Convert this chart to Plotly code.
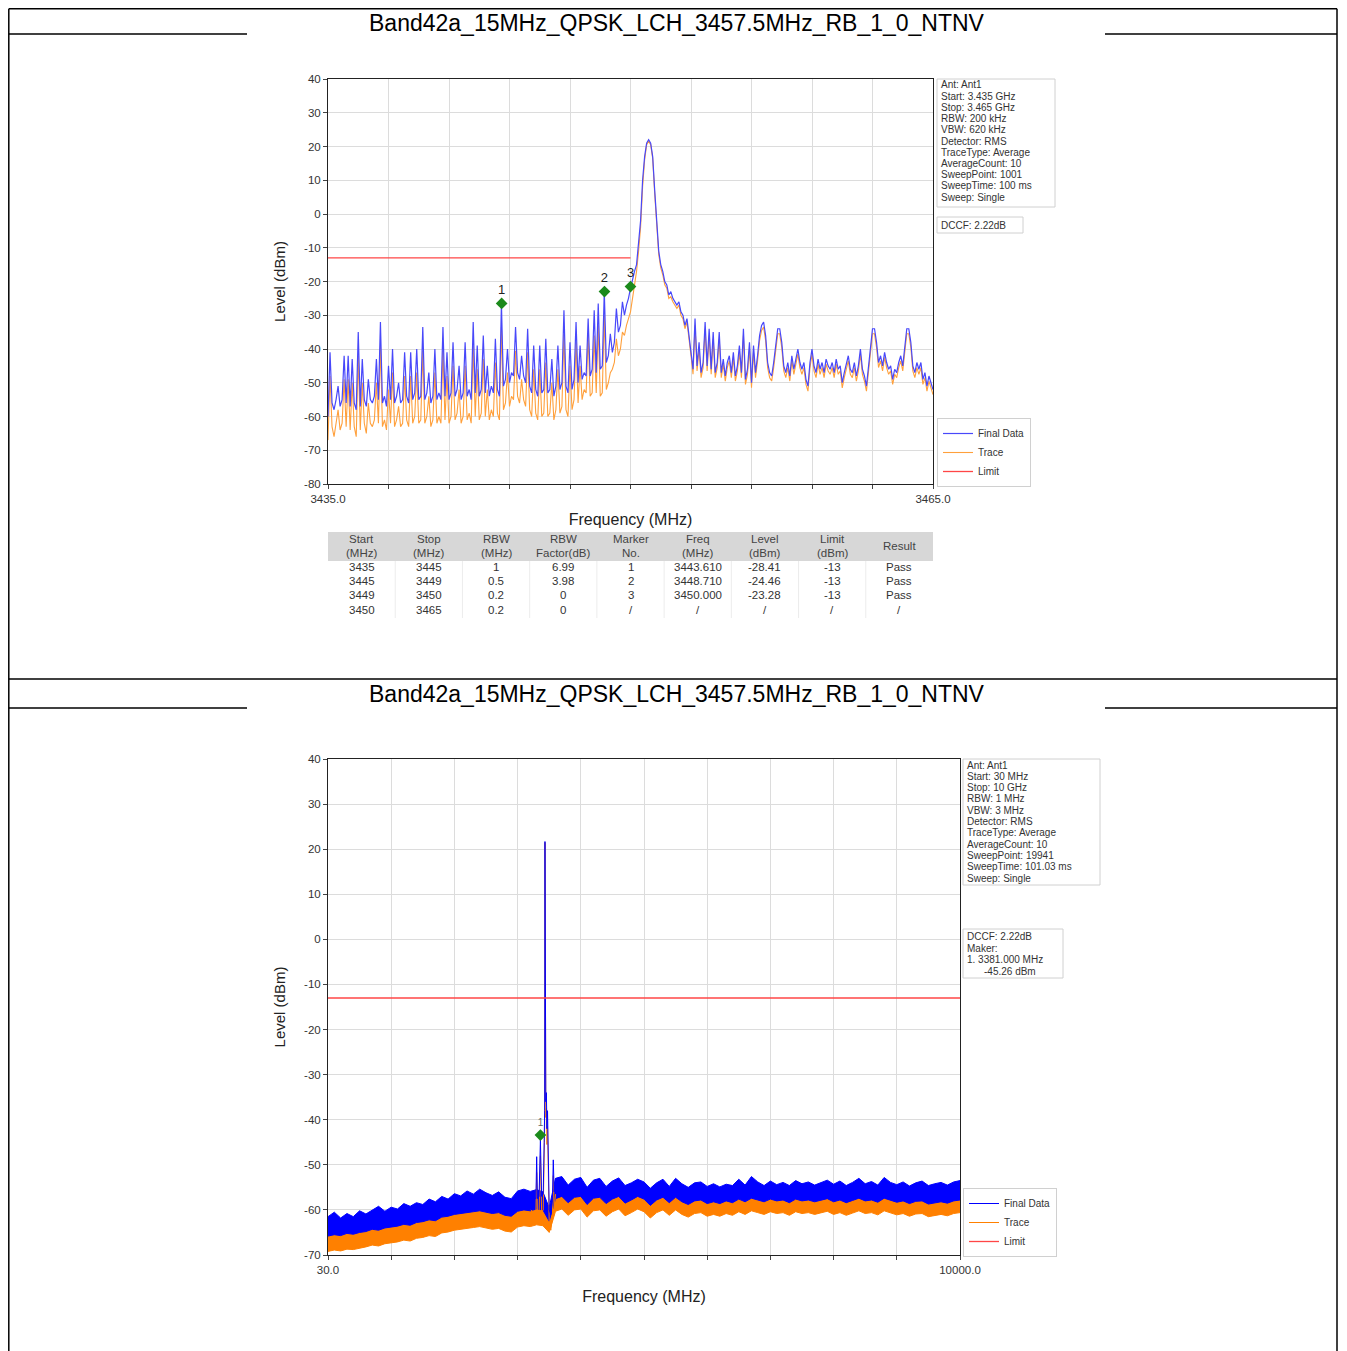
import numpy as np
import plotly.graph_objects as go

W, H = 1347, 1351
OX, OY = 8, 8          # page body offset of the plot div
FONT = "Liberation Sans, Arial, Helvetica, sans-serif"


def fx(p):
    return (p - OX) / W


def fy(p):
    return 1 - (p - OY) / H


# ---------------------------------------------------------------- data
page_title = "Band42a_15MHz_QPSK_LCH_3457.5MHz_RB_1_0_NTNV"

# ---- top plot (3435 - 3465 MHz), values read at 0.1 MHz steps
top_freq = np.round(np.linspace(3435.0, 3465.0, 301), 1)
top_final = [
    -60, -41, -56, -58, -55, -51, -57, -55, -42, -56,
    -42, -57, -43, -56, -58, -35, -57, -43, -55, -57,
    -49, -55, -56, -54, -43, -55, -32, -56, -54, -57,
    -45, -55, -40, -56, -54, -50, -56, -55, -41, -54,
    -56, -41, -55, -53, -40, -55, -54, -33.5, -55, -53,
    -47, -56, -54, -40, -55, -53, -55, -33.5, -54, -41,
    -55, -53, -38, -54, -52, -45, -55, -53, -38, -54,
    -52, -55, -32, -53, -39, -54, -52, -36, -53, -45,
    -54, -51, -53, -37, -52, -54, -26.5, -51, -49, -40,
    -50, -47, -48, -33.5, -47, -49, -42, -48, -50, -34,
    -51, -53, -39, -52, -54, -39, -53, -52, -37, -53,
    -52, -43, -54, -51, -39, -52, -50, -28.5, -51, -53,
    -38, -52, -49, -32, -50, -39, -49, -47, -48, -31,
    -48, -46, -28.5, -47, -26.5, -46, -45, -23, -44, -42,
    -35.5, -41, -38, -28, -35, -33, -26, -30, -27, -25,
    -22, -19, -17, -15, -9, -2, 10, 17, 21, 22,
    21, 17, 7, -4, -11, -15, -17, -20, -21, -24,
    -23, -25, -26, -27, -26, -29, -30, -33, -31, -37,
    -41, -46, -31, -45, -38, -47, -44, -32, -45, -34,
    -46, -35, -47, -44, -35, -47, -43, -48, -44, -42,
    -47, -41, -48, -45, -39, -47, -34, -49, -46, -38,
    -50, -39, -47, -42, -36, -33, -32, -36, -44, -47,
    -48, -44, -38, -34, -34, -38, -45, -47, -44, -48,
    -42, -46, -43, -40, -44, -46, -44, -49, -51, -44,
    -40, -45, -47, -43, -46, -44, -47, -43, -45, -46,
    -44, -47, -43, -46, -45, -50, -47, -44, -42, -46,
    -47, -44, -48, -45, -40, -46, -48, -51, -45, -38,
    -34, -34, -38, -44, -42, -45, -41, -44, -46, -45,
    -49, -46, -47, -44, -42, -45, -39, -34, -34, -38,
    -45, -47, -44, -46, -44, -49, -47, -51, -48, -50,
    -52,
]
top_trace = [
    -67, -48, -63, -66, -62, -58, -64, -62, -49, -63,
    -49, -64, -50, -63, -66, -42, -64, -50, -62, -65,
    -56, -62, -63, -61, -50, -62, -39, -63, -61, -64,
    -52, -62, -47, -63, -61, -57, -63, -62, -48, -61,
    -63, -48, -62, -60, -47, -62, -61, -40.5, -62, -60,
    -54, -63, -61, -47, -62, -60, -62, -40.5, -61, -48,
    -62, -60, -45, -61, -59, -52, -62, -60, -45, -61,
    -59, -62, -39, -60, -46, -61, -59, -43, -60, -52,
    -61, -58, -60, -44, -59, -61, -33.5, -58, -56, -47,
    -57, -54, -55, -40.5, -54, -56, -49, -55, -57, -41,
    -58, -60, -46, -59, -61, -46, -60, -59, -44, -60,
    -59, -50, -61, -58, -46, -59, -57, -35.5, -58, -60,
    -45, -58, -55, -38, -56, -45, -55, -52, -53, -36,
    -54, -53, -36, -53, -33, -54, -53, -30, -52, -50,
    -47, -46, -44, -37, -42, -40, -35, -36, -33, -31,
    -29, -25, -21, -17, -11, -4, 8, 16, 20.5, 21.5,
    20.5, 16.5, 6, -5, -12, -16, -18, -21, -22, -25,
    -24.5, -26, -27, -28, -27, -30, -31, -34, -32, -38,
    -42, -47.5, -33, -46.5, -40, -48.5, -45.5, -34, -46.5, -36,
    -47.5, -37, -48.5, -45.5, -37, -48.5, -44.5, -49.5, -45.5, -43.5,
    -48.5, -42.5, -49.5, -46.5, -41, -48.5, -36, -50.5, -47.5, -40,
    -51.5, -41, -48.5, -43.5, -37.5, -34.5, -33.5, -37.5, -45.5, -48.5,
    -49.5, -45.5, -39.5, -35.5, -35.5, -39.5, -46.5, -48.5, -45.5, -49.5,
    -43.5, -47.5, -44.5, -41.5, -45.5, -47.5, -45.5, -50.5, -52.5, -45.5,
    -41.5, -46.5, -48.5, -44.5, -47.5, -45.5, -48.5, -44.5, -46.5, -47.5,
    -45.5, -48.5, -44.5, -47.5, -46.5, -51.5, -48.5, -45.5, -43.5, -47.5,
    -48.5, -45.5, -49.5, -46.5, -41.5, -47.5, -49.5, -52.5, -46.5, -39.5,
    -35.5, -35.5, -39.5, -45.5, -43.5, -46.5, -42.5, -45.5, -47.5, -46.5,
    -50.5, -47.5, -48.5, -45.5, -43.5, -46.5, -40.5, -35.5, -35.5, -39.5,
    -46.5, -48.5, -45.5, -47.5, -45.5, -50.5, -48.5, -52.5, -49.5, -51.5,
    -53.5,
]
assert len(top_final) == 301 and len(top_trace) == 301
top_limit_freq = [3435.0, 3450.0]
top_limit_level = [-13.0, -13.0]
top_marker_no = ["1", "2", "3"]
top_marker_freq = [3443.61, 3448.71, 3450.0]
top_marker_level = [-26.5, -23.0, -21.5]
top_xtick_vals = [3435, 3438, 3441, 3444, 3447, 3450, 3453, 3456, 3459, 3462, 3465]
top_xtick_text = ["3435.0", "", "", "", "", "", "", "", "", "", "3465.0"]
top_ytick_vals = [40, 30, 20, 10, 0, -10, -20, -30, -40, -50, -60, -70, -80]
top_ytick_text = ["40", "30", "20", "10", "0", "-10", "-20", "-30", "-40", "-50",
                  "-60", "-70", "-80"]

top_info = ["Ant: Ant1", "Start: 3.435 GHz", "Stop: 3.465 GHz", "RBW: 200 kHz",
            "VBW: 620 kHz", "Detector: RMS", "TraceType: Average",
            "AverageCount: 10", "SweepPoint: 1001", "SweepTime: 100 ms",
            "Sweep: Single"]
top_dccf = ["DCCF: 2.22dB"]

tbl_header_1 = ["Start", "Stop", "RBW", "RBW", "Marker", "Freq", "Level", "Limit", "Result"]
tbl_header_2 = ["(MHz)", "(MHz)", "(MHz)", "Factor(dB)", "No.", "(MHz)", "(dBm)", "(dBm)", ""]
tbl_start = ["3435", "3445", "3449", "3450"]
tbl_stop = ["3445", "3449", "3450", "3465"]
tbl_rbw = ["1", "0.5", "0.2", "0.2"]
tbl_factor = ["6.99", "3.98", "0", "0"]
tbl_marker = ["1", "2", "3", "/"]
tbl_freq = ["3443.610", "3448.710", "3450.000", "/"]
tbl_level = ["-28.41", "-24.46", "-23.28", "/"]
tbl_limit = ["-13", "-13", "-13", "/"]
tbl_result = ["Pass", "Pass", "Pass", "/"]

# ---- bottom plot (30 MHz - 10 GHz): noise band envelopes read every ~100 MHz
bot_freq = list(np.round(np.linspace(30, 10000, 101), 1))
bot_final_hi = [
    -61.5, -60.5, -61.8, -60.8, -61.5, -60.2, -60.9, -60.0, -59.2, -60.3,
    -59.4, -59.8, -58.6, -59.2, -58.4, -58.8, -57.6, -58.2, -57.0, -57.6,
    -56.4, -56.9, -55.8, -56.5, -55.4, -56.2, -56.8, -56.0, -57.2, -57.5,
    -55.8, -55.4, -55.9, -55.5, -56.0, -59.5, -53.0, -52.6, -54.5, -53.2,
    -52.8, -55.0, -53.4, -53.0, -54.8, -53.6, -52.9, -54.6, -54.0, -53.2,
    -53.8, -55.2, -54.0, -53.2, -54.8, -53.0, -54.2, -55.0, -54.0, -53.8,
    -54.8, -54.2, -54.9, -54.3, -54.6, -53.2, -54.5, -52.6, -53.8, -54.6,
    -53.6, -54.4, -53.9, -54.6, -53.5, -54.2, -53.8, -54.5, -54.0, -53.4,
    -54.3, -53.6, -54.6, -53.9, -53.0, -54.2, -53.7, -54.5, -52.8, -53.9,
    -54.4, -53.8, -54.7, -54.0, -53.6, -54.6, -54.2, -53.9, -54.5, -53.8,
    -53.5,
]
bot_final_lo = [
    -65.8, -65.5, -65.7, -65.2, -65.4, -65.0, -64.8, -64.3, -64.5, -64.0,
    -63.8, -63.6, -63.2, -63.4, -62.8, -62.6, -62.2, -62.4, -61.6, -61.4,
    -61.0, -60.8, -60.6, -60.4, -60.2, -60.5, -60.8, -60.6, -61.2, -61.4,
    -60.3, -60.0, -60.2, -59.8, -60.0, -62.5, -57.5, -57.0, -58.4, -57.2,
    -57.0, -58.8, -57.4, -57.2, -58.6, -57.6, -57.0, -58.5, -57.8, -57.0,
    -57.6, -59.0, -57.8, -57.2, -58.4, -57.2, -58.2, -58.8, -58.0, -57.8,
    -58.6, -58.2, -58.6, -58.0, -58.4, -57.6, -58.2, -57.4, -57.8, -58.2,
    -57.6, -58.0, -57.8, -58.4, -57.6, -58.0, -57.8, -58.2, -57.9, -57.5,
    -58.2, -57.8, -58.4, -57.9, -57.4, -58.0, -57.8, -58.3, -57.4, -57.9,
    -58.3, -58.0, -58.6, -58.1, -58.0, -58.7, -58.4, -58.2, -58.5, -58.0,
    -57.8,
]
bot_trace_hi = [
    -65.0, -64.2, -65.1, -64.4, -65.0, -63.8, -64.3, -63.6, -62.9, -63.7,
    -63.0, -63.2, -62.1, -62.8, -61.9, -62.2, -61.2, -61.7, -60.6, -61.0,
    -60.0, -60.4, -59.4, -60.0, -59.0, -59.7, -60.3, -59.6, -60.6, -61.0,
    -59.3, -59.0, -59.4, -59.0, -59.5, -62.5, -56.6, -56.1, -58.0, -56.8,
    -56.3, -58.5, -57.0, -56.5, -58.3, -57.2, -56.4, -58.1, -57.5, -56.8,
    -57.3, -58.8, -57.5, -56.8, -58.3, -56.6, -57.7, -58.5, -57.5, -57.4,
    -58.3, -57.7, -58.4, -57.8, -58.1, -56.8, -58.0, -56.2, -57.3, -58.1,
    -57.2, -57.9, -57.4, -58.1, -57.0, -57.7, -57.3, -58.0, -57.5, -57.0,
    -57.8, -57.2, -58.1, -57.4, -56.6, -57.7, -57.3, -58.0, -56.4, -57.4,
    -57.9, -57.4, -58.2, -57.5, -57.2, -58.1, -57.7, -57.4, -58.0, -57.3,
    -57.0,
]
bot_trace_lo = [
    -69.2, -68.9, -69.1, -68.7, -68.8, -68.5, -68.2, -67.8, -68.0, -67.5,
    -67.3, -67.1, -66.7, -66.9, -66.3, -66.1, -65.7, -65.9, -65.1, -64.9,
    -64.5, -64.3, -64.1, -63.9, -63.7, -64.0, -64.3, -64.1, -64.7, -64.9,
    -63.8, -63.5, -63.7, -63.3, -63.5, -65.0, -60.3, -59.8, -61.2, -60.0,
    -59.8, -61.6, -60.2, -60.0, -61.4, -60.4, -59.8, -61.3, -60.6, -59.8,
    -60.4, -61.8, -60.6, -60.0, -61.2, -60.0, -61.0, -61.6, -60.8, -60.6,
    -61.4, -61.0, -61.4, -60.8, -61.2, -60.4, -61.0, -60.2, -60.6, -61.0,
    -60.4, -60.8, -60.6, -61.2, -60.4, -60.8, -60.6, -61.0, -60.7, -60.3,
    -61.0, -60.6, -61.2, -60.7, -60.2, -60.8, -60.6, -61.1, -60.2, -60.7,
    -61.1, -60.8, -61.4, -60.9, -60.8, -61.5, -61.2, -61.0, -61.3, -60.8,
    -60.6,
]
# carrier neighbourhood of the wide sweep, read point by point
bot_carrier_freq = [3230, 3280, 3310, 3322, 3334, 3360, 3381, 3400, 3425, 3440,
                    3448, 3453, 3458, 3466, 3475, 3484, 3493, 3505, 3520, 3545,
                    3570, 3584, 3598, 3620]
bot_carrier_final = [-56.5, -57, -57.5, -48.2, -57.5, -57, -44.5, -57, -56.5, -45,
                     -38, 21.7, -30, -36, -34, -42, -38, -47, -60, -61,
                     -58, -48.9, -56, -53]
bot_carrier_trace = [-60, -60.5, -61, -51.7, -61, -60.5, -48, -60.5, -60, -48.5,
                     -41.5, 21.5, -33.5, -39.5, -37.5, -45.5, -41.5, -50.5, -63, -64.5,
                     -61.5, -52.4, -59.5, -56.5]
bot_limit_freq = [30.0, 10000.0]
bot_limit_level = [-13.0, -13.0]
bot_marker_no = ["1"]
bot_marker_freq = [3381.0]
bot_marker_level = [-43.4]
bot_xtick_vals = [30, 1027, 2024, 3021, 4018, 5015, 6012, 7009, 8006, 9003, 10000]
bot_xtick_text = ["30.0", "", "", "", "", "", "", "", "", "", "10000.0"]
bot_ytick_vals = [40, 30, 20, 10, 0, -10, -20, -30, -40, -50, -60, -70]
bot_ytick_text = ["40", "30", "20", "10", "0", "-10", "-20", "-30", "-40", "-50",
                  "-60", "-70"]

bot_info = ["Ant: Ant1", "Start: 30 MHz", "Stop: 10 GHz", "RBW: 1 MHz", "VBW: 3 MHz",
            "Detector: RMS", "TraceType: Average", "AverageCount: 10",
            "SweepPoint: 19941", "SweepTime: 101.03 ms", "Sweep: Single"]
bot_marker_info = ["DCCF: 2.22dB", "Maker:", "1. 3381.000 MHz", "    -45.26 dBm"]

# ---------------------------------------------------------------- colours
BLUE_T, ORANGE_T, RED = "rgb(72,72,250)", "rgb(255,160,60)", "rgb(255,70,70)"
BLUE_B, ORANGE_B = "#0000ff", "#ff8000"
GREEN = "#1b8a1b"
GRID = "#dcdcdc"

fig = go.Figure()

# ---- top plot traces
fig.add_trace(go.Scatter(x=top_freq, y=top_trace, mode="lines", name="Trace",
                         line=dict(color=ORANGE_T, width=1.1), legend="legend",
                         legendrank=2, xaxis="x", yaxis="y"))
fig.add_trace(go.Scatter(x=top_freq, y=top_final, mode="lines", name="Final Data",
                         line=dict(color=BLUE_T, width=1.2), legend="legend",
                         legendrank=1, xaxis="x", yaxis="y"))
fig.add_trace(go.Scatter(x=top_limit_freq, y=top_limit_level, mode="lines", name="Limit",
                         line=dict(color=RED, width=1.3), legend="legend",
                         legendrank=3, xaxis="x", yaxis="y"))
fig.add_trace(go.Scatter(x=top_marker_freq, y=top_marker_level, mode="markers+text",
                         text=top_marker_no, textposition="top center",
                         textfont=dict(size=13, color="#222", family=FONT),
                         marker=dict(symbol="diamond", size=9, color=GREEN),
                         showlegend=False, xaxis="x", yaxis="y"))

# ---- bottom plot traces
fig.add_trace(go.Scatter(x=bot_freq + bot_freq[::-1], y=bot_trace_hi + bot_trace_lo[::-1],
                         mode="lines", fill="toself", fillcolor=ORANGE_B,
                         line=dict(color=ORANGE_B, width=1), showlegend=False,
                         hoverinfo="skip", xaxis="x2", yaxis="y2"))
fig.add_trace(go.Scatter(x=bot_freq + bot_freq[::-1], y=bot_final_hi + bot_final_lo[::-1],
                         mode="lines", fill="toself", fillcolor=BLUE_B,
                         line=dict(color=BLUE_B, width=1), showlegend=False,
                         hoverinfo="skip", xaxis="x2", yaxis="y2"))
fig.add_trace(go.Scatter(x=bot_carrier_freq, y=bot_carrier_trace, mode="lines", name="Trace",
                         line=dict(color=ORANGE_B, width=1), legend="legend2",
                         legendrank=2, xaxis="x2", yaxis="y2"))
fig.add_trace(go.Scatter(x=bot_carrier_freq, y=bot_carrier_final, mode="lines",
                         name="Final Data", line=dict(color=BLUE_B, width=1),
                         legend="legend2", legendrank=1, xaxis="x2", yaxis="y2"))
fig.add_trace(go.Scatter(x=bot_limit_freq, y=bot_limit_level, mode="lines", name="Limit",
                         line=dict(color=RED, width=1.3), legend="legend2",
                         legendrank=3, xaxis="x2", yaxis="y2"))
fig.add_trace(go.Scatter(x=bot_marker_freq, y=bot_marker_level, mode="markers+text",
                         text=bot_marker_no, textposition="top center",
                         textfont=dict(size=10, color="#666", family=FONT),
                         marker=dict(symbol="diamond", size=9, color=GREEN),
                         showlegend=False, xaxis="x2", yaxis="y2"))

axis_common = dict(showline=True, linecolor="#222", linewidth=1, mirror=True,
                   ticks="outside", ticklen=4, tickcolor="#444", showgrid=True,
                   gridcolor=GRID, gridwidth=1, zeroline=False, automargin=False,
                   ticklabeloverflow="allow",
                   tickfont=dict(size=11.5, color="#333", family=FONT))

fig.update_layout(
    width=W, height=H, autosize=False,
    margin=dict(l=0, r=0, t=0, b=0, autoexpand=False),
    paper_bgcolor="white", plot_bgcolor="white",
    font=dict(family=FONT, color="#222"),
    xaxis=dict(domain=[fx(328), fx(933)], range=[3435, 3465], anchor="y",
               tickmode="array", tickvals=top_xtick_vals, ticktext=top_xtick_text,
               title=dict(text="Frequency (MHz)", font=dict(size=16, color="#222"), standoff=10),
               **axis_common),
    yaxis=dict(domain=[fy(484), fy(79)], range=[-80, 40], anchor="x",
               tickmode="array", tickvals=top_ytick_vals, ticktext=top_ytick_text,
               title=dict(text="Level (dBm)", font=dict(size=15, color="#222"), standoff=14),
               **axis_common),
    xaxis2=dict(domain=[fx(328), fx(960)], range=[30, 10000], anchor="y2",
                tickmode="array", tickvals=bot_xtick_vals, ticktext=bot_xtick_text,
                title=dict(text="Frequency (MHz)", font=dict(size=16, color="#222"), standoff=16),
                **axis_common),
    yaxis2=dict(domain=[fy(1255), fy(759)], range=[-70, 40], anchor="x2",
                tickmode="array", tickvals=bot_ytick_vals, ticktext=bot_ytick_text,
                title=dict(text="Level (dBm)", font=dict(size=15, color="#222"), standoff=14),
                **axis_common),
    legend=dict(x=fx(937), y=fy(487), xanchor="left", yanchor="bottom",
                bordercolor="#d0d0d0", borderwidth=1, bgcolor="white",
                font=dict(size=10, color="#333", family=FONT), tracegroupgap=0,
                itemwidth=30),
    legend2=dict(x=fx(963), y=fy(1257), xanchor="left", yanchor="bottom",
                 bordercolor="#d0d0d0", borderwidth=1, bgcolor="white",
                 font=dict(size=10, color="#333", family=FONT), tracegroupgap=0,
                 itemwidth=30),
)

shapes = []
annotations = []

# page table borders (clamped to the drawable area)
LINE = dict(color="black", width=1.5)
top_edge = min(fy(5), 1 - 0.8 / H)
left_edge = max(fx(8), 0.8 / W)
right_edge = fx(1337)
shapes.append(dict(type="line", xref="paper", yref="paper", x0=left_edge, x1=right_edge, y0=top_edge, y1=top_edge, line=LINE))
shapes.append(dict(type="line", xref="paper", yref="paper", x0=left_edge, x1=left_edge, y0=top_edge, y1=0, line=LINE))
shapes.append(dict(type="line", xref="paper", yref="paper", x0=right_edge, x1=right_edge, y0=top_edge, y1=0, line=LINE))
shapes.append(dict(type="line", xref="paper", yref="paper", x0=left_edge, x1=right_edge, y0=fy(679), y1=fy(679), line=LINE))
for yy in (34, 708):
    shapes.append(dict(type="line", xref="paper", yref="paper", x0=left_edge, x1=fx(247), y0=fy(yy), y1=fy(yy), line=LINE))
    shapes.append(dict(type="line", xref="paper", yref="paper", x0=fx(1105), x1=right_edge, y0=fy(yy), y1=fy(yy), line=LINE))

for yy in (22.5, 694):
    annotations.append(dict(text=page_title, x=fx(677), y=fy(yy), xref="paper", yref="paper",
                            xanchor="center", yanchor="middle", showarrow=False,
                            borderpad=0,
                            font=dict(size=23, color="black", family=FONT)))


def info_box(lines, x0, x1, y0, y1, first_y, step, text_x, indent_x=None):
    shapes.append(dict(type="rect", xref="paper", yref="paper", x0=fx(x0), x1=fx(x1),
                       y0=fy(y1), y1=fy(y0), line=dict(color="#d0d0d0", width=1),
                       fillcolor="white", layer="below"))
    for i, t in enumerate(lines):
        xx = text_x
        if t.startswith("    ") and indent_x is not None:
            xx = indent_x
        annotations.append(dict(text=t.strip(), x=fx(xx), y=fy(first_y + step * i),
                                xref="paper", yref="paper", xanchor="left",
                                yanchor="middle", showarrow=False, borderpad=0,
                                font=dict(size=10, color="#333", family=FONT)))


info_box(top_info, 937, 1055, 79, 207, 85, 11.2, 940)
info_box(top_dccf, 937, 1023, 217, 233, 225, 11.2, 940)
info_box(bot_info, 963, 1100, 759, 885, 765, 11.3, 966)
info_box(bot_marker_info, 963, 1063, 929, 978, 937, 11.4, 966, indent_x=983)

# ---- marker table under the top plot, built from the table lists
TX0, TX1 = 328, 933
col_w = (TX1 - TX0) / 9
shapes.append(dict(type="rect", xref="paper", yref="paper", x0=fx(TX0), x1=fx(TX1),
                   y0=fy(561), y1=fy(532), line=dict(width=0), fillcolor="#d7d7d7",
                   layer="below"))
for c in range(1, 9):
    xc = TX0 + col_w * c
    shapes.append(dict(type="line", xref="paper", yref="paper", x0=fx(xc), x1=fx(xc),
                       y0=fy(618), y1=fy(561), line=dict(color="#ececec", width=1),
                       layer="below"))
columns = [tbl_start, tbl_stop, tbl_rbw, tbl_factor, tbl_marker, tbl_freq,
           tbl_level, tbl_limit, tbl_result]
row_y = [567, 581, 595, 610]
for c in range(9):
    xc = TX0 + col_w * (c + 0.5)
    if tbl_header_2[c]:
        hdr = [(tbl_header_1[c], 538.5), (tbl_header_2[c], 553)]
    else:
        hdr = [(tbl_header_1[c], 545.5)]
    for txt, yy in hdr:
        annotations.append(dict(text=txt, x=fx(xc), y=fy(yy), xref="paper", yref="paper",
                                xanchor="center", yanchor="middle", showarrow=False,
                                borderpad=0,
                                font=dict(size=11.5, color="#444", family=FONT)))
    for r, val in enumerate(columns[c]):
        annotations.append(dict(text=val, x=fx(xc), y=fy(row_y[r]), xref="paper",
                                yref="paper", xanchor="center", yanchor="middle",
                                showarrow=False, borderpad=0,
                                font=dict(size=11.5, color="#333", family=FONT)))

fig.update_layout(shapes=shapes, annotations=annotations)

fig.write_html("out.html")
